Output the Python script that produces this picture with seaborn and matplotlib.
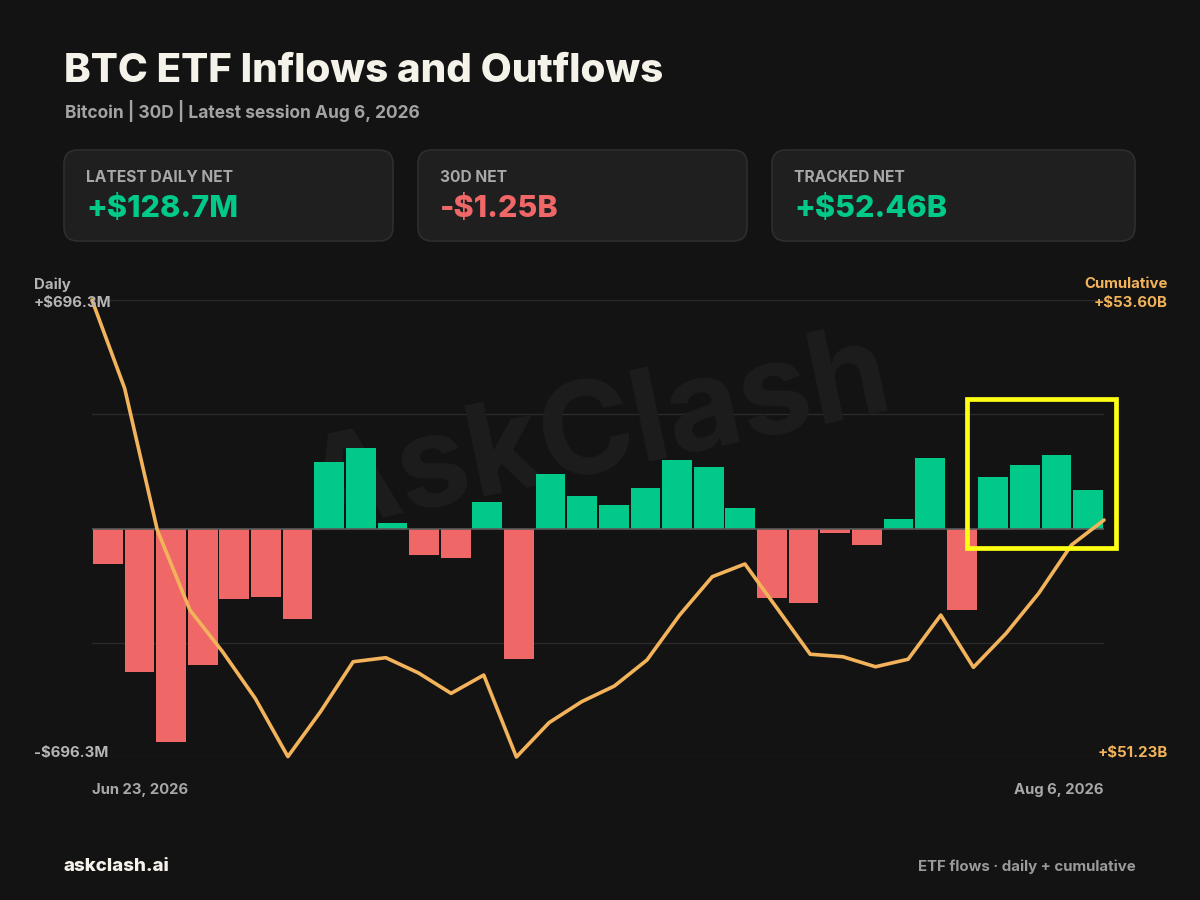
import numpy as np
import pandas as pd
import matplotlib
matplotlib.use('Agg')
import matplotlib.pyplot as plt
import seaborn as sns
from matplotlib.patches import FancyBboxPatch, Rectangle

# daily net flow per session, $M
daily = [-108, -438, -650, -415, -216, -210, -275, 204, 245, 18, -81, -89, 82, -398,
         167, 98, 72, 122, 210, 188, 63, -212, -227, -13, -49, 29, 216, -249,
         156, 195, 225, 118]
# cumulative tracked net, $B
cumulative = [53.600, 53.142, 52.407, 51.992, 51.776, 51.534, 51.232, 51.465, 51.724,
              51.745, 51.666, 51.560, 51.655, 51.230, 51.408, 51.517, 51.598, 51.733,
              51.966, 52.165, 52.231, 51.998, 51.763, 51.750, 51.698, 51.737, 51.966,
              51.695, 51.871, 52.079, 52.329, 52.459]
date_labels = ['Jun 23, 2026', 'Aug 6, 2026']
daily_lim = 696.3
cum_lim = [51.23, 53.60]

card_labels = ['LATEST DAILY NET', '30D NET', 'TRACKED NET']
card_values = ['+$128.7M', '-$1.25B', '+$52.46B']

BG = '#131313'
GREEN = '#00c98a'
RED = '#f06767'
ORANGE = '#f2b35a'
GRAY = '#a8a8a8'

sns.set_theme(style='dark')
plt.rcParams['font.family'] = ['Inter', 'DejaVu Sans']

df = pd.DataFrame({'i': range(len(daily)), 'net': daily})
df['dir'] = np.where(df.net >= 0, 'in', 'out')

fig = plt.figure(figsize=(12, 9), dpi=100, facecolor=BG)

def px(x, y):
    return x / 1200, (900 - y) / 900

# bars
x0, y0 = px(92, 757)
x1, y1 = px(1104, 300)
ax = fig.add_axes([x0, y0, x1 - x0, y1 - y0])
ax.set_facecolor('none')
for v in [-daily_lim, -daily_lim / 2, daily_lim / 2, daily_lim]:
    ax.axhline(v, color='#2a2a2a', lw=1, zorder=0)
ax.text(0.5, 0.70, 'AskClash', transform=ax.transAxes, ha='center', va='center',
        rotation=12, fontsize=92, fontweight='bold', color='#1d1d1d', zorder=0)
sns.barplot(data=df, x='i', y='net', hue='dir', palette={'in': GREEN, 'out': RED},
            dodge=False, width=0.94, saturation=1, legend=False, ax=ax, zorder=2,
            linewidth=0, edgecolor='none')
ax.axhline(0, color='#5a5a5a', lw=1.2, zorder=3)
ax.set_xlim(-0.5, len(daily) - 0.5)
ax.set_ylim(-daily_lim, daily_lim)
ax.axis('off')

# cumulative line
ax2 = fig.add_axes([x0, y0, x1 - x0, y1 - y0])
ax2.set_facecolor('none')
sns.lineplot(x=range(len(cumulative)), y=cumulative, color=ORANGE, lw=2.6, ax=ax2,
             zorder=4, clip_on=False)
ax2.set_xlim(0, len(cumulative) - 1)
ax2.set_ylim(*cum_lim)
ax2.axis('off')

# overlay in pixel coords
ov = fig.add_axes([0, 0, 1, 1], zorder=5)
ov.set_xlim(0, 1200)
ov.set_ylim(900, 0)
ov.axis('off')
ov.patch.set_alpha(0)

ov.text(64, 82, 'BTC ETF Inflows and Outflows', fontsize=29, fontweight='heavy',
        color='#f5f2ea', va='baseline')
ov.text(65, 117.5, 'Bitcoin | 30D | Latest session Aug 6, 2026', fontsize=12.5,
        fontweight='bold', color='#a3a3a3', va='baseline')

cards = [(64, 393), (418, 747), (772, 1135)]
value_colors = [GREEN, RED, GREEN]
for (l, r), lab, val, c in zip(cards, card_labels, card_values, value_colors):
    ov.add_patch(FancyBboxPatch((l, 150), r - l, 91, boxstyle='round,pad=0,rounding_size=14',
                                facecolor='#1f1f1f', edgecolor='#2e2e2e', lw=1.2))
    ov.text(l + 22, 182.5, lab, fontsize=11.2, fontweight='bold', color=GRAY,
            va='baseline')
    ov.text(l + 22, 217, val, fontsize=22, fontweight='heavy', color=c, va='baseline')

ov.text(34, 288.5, 'Daily', fontsize=10.8, fontweight='bold', color='#b5b5b5', va='baseline')
ov.text(34, 307.5, f'+${daily_lim:.1f}M', fontsize=10.8, fontweight='bold',
        color='#b5b5b5', va='baseline')
ov.text(34, 756.5, f'-${daily_lim:.1f}M', fontsize=10.8, fontweight='bold',
        color='#b5b5b5', va='baseline')
ov.text(1168, 288.5, 'Cumulative', fontsize=10.8, fontweight='bold', color=ORANGE,
        va='baseline', ha='right')
ov.text(1168, 307.5, f'+${cum_lim[1]:.2f}B', fontsize=10.8, fontweight='bold',
        color=ORANGE, va='baseline', ha='right')
ov.text(1168, 756.5, f'+${cum_lim[0]:.2f}B', fontsize=10.8, fontweight='bold',
        color=ORANGE, va='baseline', ha='right')

ov.text(92, 794, date_labels[0], fontsize=10.7, fontweight='bold', color='#a8a8a8',
        va='baseline')
ov.text(1104, 794, date_labels[1], fontsize=10.7, fontweight='bold', color='#a8a8a8',
        va='baseline', ha='right')

ov.text(64, 871, 'askclash.ai', fontsize=13.5, fontweight='heavy', color='#f5f2ea',
        va='baseline')
ov.text(1136, 871, 'ETF flows \u00b7 daily + cumulative', fontsize=10.8, fontweight='bold',
        color='#9a9a9a', va='baseline', ha='right')

# highlight box on latest sessions
ov.add_patch(Rectangle((966.5, 399), 149.5, 149, fill=False, edgecolor='#ffff14', lw=3.4))

fig.savefig('out.png', dpi=100, facecolor=BG)
